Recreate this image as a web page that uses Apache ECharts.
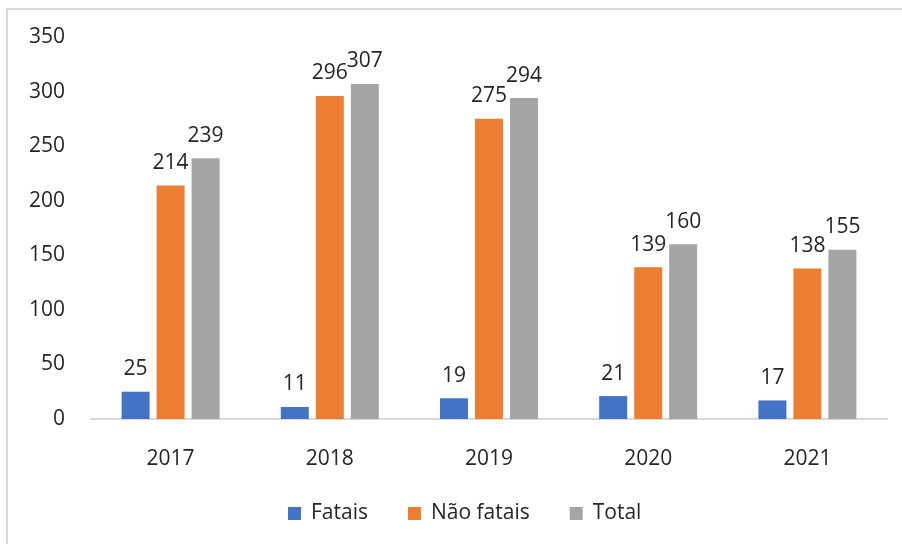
<!DOCTYPE html>
<html><head><meta charset="utf-8">
<script src="https://cdn.jsdelivr.net/npm/echarts@6/dist/echarts.min.js"></script>
<style>html,body{margin:0;padding:0;background:#fff}#c{width:902px;height:544px}</style>
</head><body><div id="c"></div>
<script>
const categories = ['2017','2018','2019','2020','2021'];
const fatais = [25, 11, 19, 21, 17];
const naoFatais = [214, 296, 275, 139, 138];
const total = [239, 307, 294, 160, 155];
const seriesNames = ['Fatais', 'Não fatais', 'Total'];
const colors = ['#4472C4', '#ED7D31', '#A5A5A5'];

const font = '"Open Sans", sans-serif';
const fs = 21;
const chart = echarts.init(document.getElementById('c'), null, {renderer:'canvas'});
const lbl = {show:true, position:'top', color:'#262626', fontSize:fs, fontFamily:font, distance:12};
function mk(name, data, i){
  return {name, type:'bar', data, barWidth:28, barGap:'25%', itemStyle:{color:colors[i]}, label:lbl};
}
chart.setOption({
  animation:false,
  graphic:[{type:'rect', shape:{x:7,y:9,width:910,height:560}, style:{fill:null, stroke:'#d9d9d9', lineWidth:2}}],
  grid:{left:91, right:15, top:37, bottom:125},
  legend:{bottom:15, left:283, itemWidth:13, itemHeight:13, itemGap:40, icon:'rect',
    textStyle:{fontSize:fs, color:'#262626', fontFamily:font, padding:[0,0,0,5]}, data:seriesNames},
  xAxis:{type:'category', data:categories, axisTick:{show:false},
    axisLine:{lineStyle:{color:'#d9d9d9', width:2}},
    axisLabel:{fontSize:fs, color:'#262626', fontFamily:font, margin:30}},
  yAxis:{type:'value', min:0, max:350, interval:50, splitLine:{show:false},
    axisLabel:{fontSize:fs, color:'#262626', fontFamily:font, margin:26}},
  series:[mk(seriesNames[0], fatais, 0), mk(seriesNames[1], naoFatais, 1), mk(seriesNames[2], total, 2)]
});
</script></body></html>
